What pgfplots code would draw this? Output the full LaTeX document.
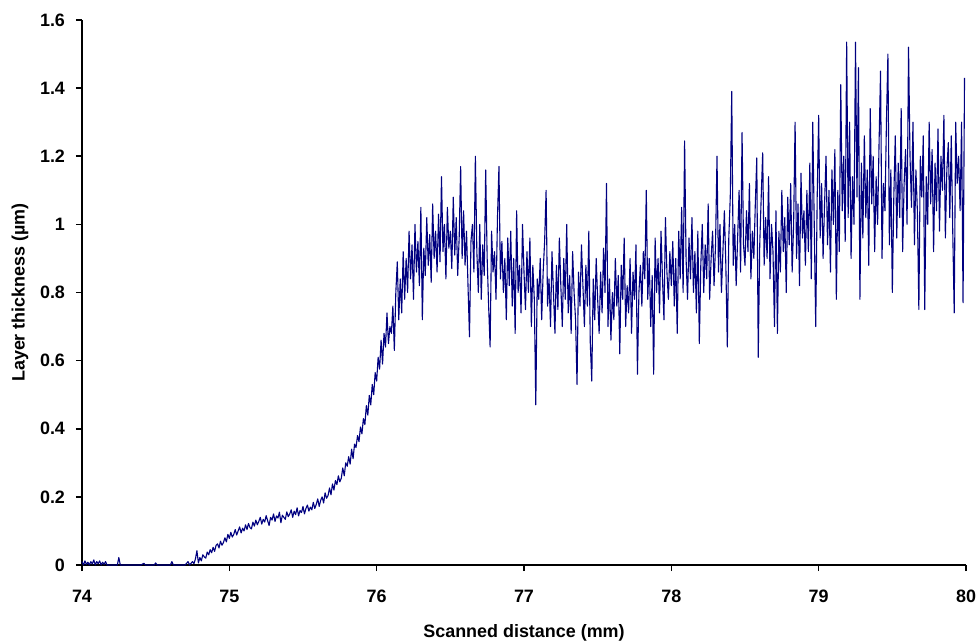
\documentclass[border=0pt]{standalone}
\usepackage{fontspec}
\setmainfont{Liberation Sans}
\usepackage{pgfplots}
\pgfplotsset{compat=1.18}
\definecolor{trace}{RGB}{0,0,128}

\begin{document}
\begin{tikzpicture}
\begin{axis}[scale only axis,width=442bp,height=272.5bp,
  xmin=74,xmax=80,ymin=0,ymax=1.6,
  xtick={74,75,...,80},ytick={0,0.2,...,1.6},
  axis x line*=bottom,axis y line*=left,
  axis line style={line width=0.8bp},
  tick style={line width=0.8bp,black},
  tick align=outside,major tick length=3bp,
  /pgf/number format/assume math mode=true,
  ticklabel style={font=\fontsize{9}{10}\selectfont\bfseries},
  yticklabel style={xshift=-2bp},
  xticklabel style={yshift=-6bp},
  label style={font=\fontsize{9}{10}\selectfont\bfseries},
  xlabel={Scanned distance (mm)},
  ylabel={Layer thickness (µm)},
  xlabel style={yshift=-4bp},
  ylabel style={yshift=-1bp},
  clip=false]
\coordinate (bl) at (rel axis cs:0,0);
\addplot[trace,line width=0.55bp,line join=round] table[row sep=\\] {
x y\\
74.00 0.010\\ 74.01 0.000\\ 74.02 0.012\\ 74.03 0.002\\ 74.04 0.008\\ 74.05 0.000\\ 74.06 0.010\\ 74.07 0.003\\ 74.08 0.015\\ 74.09 0.000\\
74.10 0.010\\ 74.11 0.004\\ 74.12 0.012\\ 74.13 0.000\\ 74.14 0.008\\ 74.15 0.002\\ 74.16 0.010\\ 74.17 0.000\\ 74.24 0.000\\ 74.25 0.022\\
74.26 0.000\\ 74.40 0.000\\ 74.42 0.005\\ 74.43 0.000\\ 74.49 0.000\\ 74.50 0.006\\ 74.51 0.000\\ 74.60 0.000\\ 74.61 0.010\\ 74.62 0.000\\
74.70 0.000\\ 74.72 0.010\\ 74.73 0.000\\ 74.74 0.005\\
74.75 0.010\\ 74.76 0.004\\ 74.77 0.018\\ 74.78 0.042\\ 74.79 0.006\\ 74.80 0.022\\ 74.81 0.012\\ 74.82 0.030\\ 74.83 0.024\\ 74.84 0.020\\
74.85 0.038\\ 74.86 0.030\\ 74.87 0.045\\ 74.88 0.036\\ 74.89 0.052\\ 74.90 0.040\\ 74.91 0.058\\ 74.92 0.062\\ 74.93 0.050\\ 74.94 0.070\\
74.95 0.058\\ 74.96 0.066\\ 74.97 0.080\\ 74.98 0.068\\ 74.99 0.090\\
75.00 0.078\\ 75.01 0.096\\ 75.02 0.082\\ 75.03 0.090\\ 75.04 0.104\\ 75.05 0.088\\ 75.06 0.100\\ 75.07 0.112\\ 75.08 0.094\\ 75.09 0.108\\
75.10 0.100\\ 75.11 0.118\\ 75.12 0.104\\ 75.13 0.122\\ 75.14 0.110\\ 75.15 0.106\\ 75.16 0.126\\ 75.17 0.114\\ 75.18 0.132\\ 75.19 0.118\\
75.20 0.128\\ 75.21 0.140\\ 75.22 0.120\\ 75.23 0.134\\ 75.24 0.126\\ 75.25 0.145\\ 75.26 0.130\\ 75.27 0.116\\ 75.28 0.140\\ 75.29 0.132\\
75.30 0.150\\ 75.31 0.128\\ 75.32 0.144\\ 75.33 0.138\\ 75.34 0.155\\ 75.35 0.124\\ 75.36 0.146\\ 75.37 0.140\\ 75.38 0.134\\ 75.39 0.156\\
75.40 0.142\\ 75.41 0.150\\ 75.42 0.162\\ 75.43 0.140\\ 75.44 0.158\\ 75.45 0.148\\ 75.46 0.168\\ 75.47 0.144\\ 75.48 0.160\\ 75.49 0.154\\
75.50 0.172\\ 75.51 0.150\\ 75.52 0.166\\ 75.53 0.176\\ 75.54 0.158\\ 75.55 0.170\\ 75.56 0.162\\ 75.57 0.184\\ 75.58 0.166\\ 75.59 0.178\\
75.60 0.194\\ 75.61 0.172\\ 75.62 0.190\\ 75.63 0.200\\ 75.64 0.182\\ 75.65 0.212\\ 75.66 0.196\\ 75.67 0.204\\ 75.68 0.226\\ 75.69 0.206\\
75.70 0.238\\ 75.71 0.220\\ 75.72 0.248\\ 75.73 0.236\\ 75.74 0.262\\ 75.75 0.244\\ 75.76 0.255\\ 75.77 0.285\\ 75.78 0.262\\ 75.79 0.300\\
75.80 0.290\\ 75.81 0.318\\ 75.82 0.296\\ 75.83 0.340\\ 75.84 0.312\\ 75.85 0.355\\ 75.86 0.345\\ 75.87 0.380\\ 75.88 0.362\\ 75.89 0.405\\
75.90 0.385\\ 75.91 0.430\\ 75.92 0.412\\ 75.93 0.468\\ 75.94 0.440\\ 75.95 0.498\\ 75.96 0.470\\ 75.97 0.530\\ 75.98 0.500\\ 75.99 0.565\\
76.00 0.540\\ 76.01 0.610\\ 76.02 0.575\\ 76.03 0.660\\ 76.04 0.590\\ 76.05 0.680\\ 76.06 0.640\\ 76.07 0.740\\ 76.08 0.650\\ 76.09 0.700\\
76.10 0.68\\ 76.11 0.76\\ 76.12 0.63\\ 76.13 0.80\\ 76.14 0.89\\ 76.15 0.72\\ 76.16 0.84\\ 76.17 0.74\\ 76.18 0.92\\ 76.19 0.78\\
76.20 0.90\\ 76.21 0.80\\ 76.22 0.98\\ 76.23 0.84\\ 76.24 0.94\\ 76.25 0.78\\ 76.26 1.00\\ 76.27 0.86\\ 76.28 0.95\\ 76.29 0.82\\
76.30 1.05\\ 76.31 0.72\\ 76.32 0.93\\ 76.33 0.85\\ 76.34 1.02\\ 76.35 0.88\\ 76.36 0.97\\ 76.37 0.83\\ 76.38 1.06\\ 76.39 0.90\\
76.40 0.98\\ 76.41 0.86\\ 76.42 1.03\\ 76.43 0.89\\ 76.44 1.14\\ 76.45 0.92\\ 76.46 1.00\\ 76.47 0.84\\ 76.48 1.05\\ 76.49 0.93\\
76.50 0.98\\ 76.51 0.87\\ 76.52 1.08\\ 76.53 0.91\\ 76.54 1.02\\ 76.55 0.85\\ 76.56 0.96\\ 76.57 1.17\\ 76.58 0.90\\ 76.59 1.04\\
76.60 0.88\\ 76.61 0.98\\ 76.62 0.82\\ 76.63 0.67\\ 76.64 0.95\\ 76.65 1.00\\ 76.66 0.86\\ 76.67 1.20\\ 76.68 0.92\\ 76.69 0.80\\
76.70 1.00\\ 76.71 0.78\\ 76.72 0.94\\ 76.73 0.85\\ 76.74 1.16\\ 76.75 0.90\\ 76.76 0.76\\ 76.77 0.64\\ 76.78 0.98\\ 76.79 0.86\\
76.80 0.92\\ 76.81 0.78\\ 76.82 1.02\\ 76.83 1.17\\ 76.84 0.84\\ 76.85 0.95\\ 76.86 0.80\\ 76.87 0.90\\ 76.88 0.72\\ 76.89 0.96\\
76.90 0.82\\ 76.91 0.98\\ 76.92 0.76\\ 76.93 0.90\\ 76.94 0.68\\ 76.95 1.04\\ 76.96 0.80\\ 76.97 0.88\\ 76.98 0.74\\ 76.99 1.00\\
77.00 0.86\\ 77.01 0.75\\ 77.02 0.92\\ 77.03 0.80\\ 77.04 0.96\\ 77.05 0.70\\ 77.06 0.88\\ 77.07 0.78\\ 77.08 0.47\\ 77.09 0.84\\
77.10 0.78\\ 77.11 0.90\\ 77.12 0.72\\ 77.13 0.86\\ 77.14 0.95\\ 77.15 1.10\\ 77.16 0.76\\ 77.17 0.84\\ 77.18 0.70\\ 77.19 0.92\\
77.20 0.80\\ 77.21 0.68\\ 77.22 0.88\\ 77.23 0.75\\ 77.24 0.96\\ 77.25 0.82\\ 77.26 0.70\\ 77.27 0.90\\ 77.28 0.78\\ 77.29 1.00\\
77.30 0.74\\ 77.31 0.85\\ 77.32 0.68\\ 77.33 0.92\\ 77.34 0.80\\ 77.35 0.72\\ 77.36 0.53\\ 77.37 0.86\\ 77.38 0.76\\ 77.39 0.94\\
77.40 0.82\\ 77.41 0.70\\ 77.42 0.88\\ 77.43 0.76\\ 77.44 0.98\\ 77.45 0.65\\ 77.46 0.54\\ 77.47 0.84\\ 77.48 0.72\\ 77.49 0.90\\
77.50 0.78\\ 77.51 0.68\\ 77.52 0.86\\ 77.53 0.74\\ 77.54 0.93\\ 77.55 0.80\\ 77.56 1.12\\ 77.57 0.70\\ 77.58 0.84\\ 77.59 0.66\\
77.60 0.80\\ 77.61 0.72\\ 77.62 0.90\\ 77.63 0.76\\ 77.64 0.85\\ 77.65 0.62\\ 77.66 0.88\\ 77.67 0.78\\ 77.68 0.96\\ 77.69 0.70\\
77.70 0.82\\ 77.71 0.74\\ 77.72 0.90\\ 77.73 0.68\\ 77.74 0.86\\ 77.75 0.78\\ 77.76 0.94\\ 77.77 0.56\\ 77.78 0.80\\ 77.79 0.88\\
77.80 0.76\\ 77.81 0.92\\ 77.82 0.84\\ 77.83 1.10\\ 77.84 0.78\\ 77.85 0.90\\ 77.86 0.70\\ 77.87 0.85\\ 77.88 0.56\\ 77.89 0.96\\
77.90 0.80\\ 77.91 0.90\\ 77.92 0.74\\ 77.93 0.98\\ 77.94 0.84\\ 77.95 0.72\\ 77.96 1.02\\ 77.97 0.86\\ 77.98 0.78\\ 77.99 0.92\\
78.00 0.82\\ 78.01 0.95\\ 78.02 0.76\\ 78.03 0.90\\ 78.04 0.68\\ 78.05 0.98\\ 78.06 0.84\\ 78.07 1.05\\ 78.08 0.80\\ 78.09 1.245\\
78.10 0.90\\ 78.11 0.78\\ 78.12 0.96\\ 78.13 0.84\\ 78.14 1.02\\ 78.15 0.80\\ 78.16 0.92\\ 78.17 0.74\\ 78.18 0.98\\ 78.19 0.65\\
78.20 0.88\\ 78.21 1.00\\ 78.22 0.80\\ 78.23 0.94\\ 78.24 0.84\\ 78.25 1.06\\ 78.26 0.78\\ 78.27 0.90\\ 78.28 0.98\\ 78.29 0.82\\
78.30 0.94\\ 78.31 1.20\\ 78.32 0.86\\ 78.33 1.00\\ 78.34 0.80\\ 78.35 0.92\\ 78.36 1.04\\ 78.37 0.88\\ 78.38 0.64\\ 78.39 0.96\\
78.40 1.08\\ 78.41 1.39\\ 78.42 0.88\\ 78.43 1.00\\ 78.44 0.82\\ 78.45 0.96\\ 78.46 1.10\\ 78.47 0.86\\ 78.48 1.27\\ 78.49 0.94\\
78.50 0.88\\ 78.51 1.04\\ 78.52 0.92\\ 78.53 1.12\\ 78.54 0.84\\ 78.55 0.98\\ 78.56 0.90\\ 78.57 1.06\\ 78.58 1.195\\ 78.59 0.61\\
78.60 0.94\\ 78.61 1.08\\ 78.62 1.21\\ 78.63 0.88\\ 78.64 1.02\\ 78.65 0.90\\ 78.66 1.14\\ 78.67 0.84\\ 78.68 1.00\\ 78.69 0.92\\
78.70 0.70\\ 78.71 1.04\\ 78.72 0.68\\ 78.73 0.98\\ 78.74 0.86\\ 78.75 1.10\\ 78.76 0.92\\ 78.77 1.02\\ 78.78 0.80\\ 78.79 1.08\\
78.80 0.94\\ 78.81 1.12\\ 78.82 0.86\\ 78.83 1.00\\ 78.84 1.30\\ 78.85 0.90\\ 78.86 1.06\\ 78.87 0.82\\ 78.88 1.15\\ 78.89 0.96\\
78.90 1.04\\ 78.91 0.88\\ 78.92 1.10\\ 78.93 0.92\\ 78.94 1.18\\ 78.95 0.84\\ 78.96 1.30\\ 78.97 1.00\\ 78.98 0.70\\ 78.99 1.08\\
79.00 1.32\\ 79.01 0.96\\ 79.02 1.12\\ 79.03 0.90\\ 79.04 1.06\\ 79.05 1.20\\ 79.06 0.94\\ 79.07 1.10\\ 79.08 0.86\\ 79.09 1.16\\
79.10 1.00\\ 79.11 1.22\\ 79.12 0.78\\ 79.13 1.10\\ 79.14 0.92\\ 79.15 1.41\\ 79.16 1.04\\ 79.17 1.20\\ 79.18 0.95\\ 79.19 1.535\\
79.20 1.02\\ 79.21 1.30\\ 79.22 0.90\\ 79.23 1.14\\ 79.24 1.00\\ 79.25 1.535\\ 79.26 1.08\\ 79.27 1.46\\ 79.28 0.78\\ 79.29 1.18\\
79.30 0.96\\ 79.31 1.26\\ 79.32 1.02\\ 79.33 1.16\\ 79.34 0.88\\ 79.35 1.34\\ 79.36 1.06\\ 79.37 1.20\\ 79.38 0.92\\ 79.39 1.14\\
79.40 1.00\\ 79.41 1.24\\ 79.42 1.45\\ 79.43 0.90\\ 79.44 1.12\\ 79.45 1.04\\ 79.46 1.30\\ 79.47 1.50\\ 79.48 0.94\\ 79.49 1.16\\
79.50 0.80\\ 79.51 1.08\\ 79.52 1.26\\ 79.53 0.96\\ 79.54 1.18\\ 79.55 1.02\\ 79.56 1.34\\ 79.57 0.92\\ 79.58 1.12\\ 79.59 1.22\\
79.60 1.00\\ 79.61 1.52\\ 79.62 1.20\\ 79.63 1.05\\ 79.64 1.30\\ 79.65 0.94\\ 79.66 1.16\\ 79.67 1.04\\ 79.68 0.75\\ 79.69 1.20\\
79.70 1.08\\ 79.71 1.26\\ 79.72 0.75\\ 79.73 1.14\\ 79.74 1.00\\ 79.75 1.30\\ 79.76 1.06\\ 79.77 1.22\\ 79.78 0.92\\ 79.79 1.18\\
79.80 1.04\\ 79.81 1.28\\ 79.82 0.98\\ 79.83 1.20\\ 79.84 1.10\\ 79.85 1.32\\ 79.86 0.96\\ 79.87 1.16\\ 79.88 1.24\\ 79.89 1.02\\
79.90 1.26\\ 79.91 0.98\\ 79.92 0.74\\ 79.93 1.30\\ 79.94 1.12\\ 79.95 1.20\\ 79.96 1.04\\ 79.97 1.30\\ 79.98 0.77\\ 79.99 1.43\\
};
\end{axis}
\pgfresetboundingbox
\path[use as bounding box] ([xshift=-41bp,yshift=-39bp]bl) rectangle ([xshift=449bp,yshift=282.5bp]bl);
\end{tikzpicture}
\end{document}
